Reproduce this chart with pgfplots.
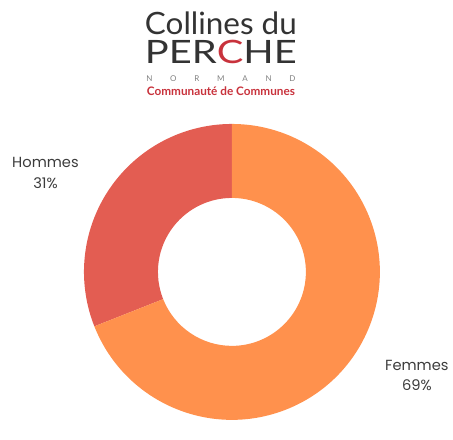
\documentclass[border=0pt]{standalone}
\usepackage{pgfplots}
\pgfplotsset{compat=1.18}
\usepackage{pgfplotstable}
\usepackage{graphicx}
\usepackage{fontspec}
\setmainfont{Poppins}
\newfontfamily\logofont{Lato}

\definecolor{femmes}{HTML}{FF914D}
\definecolor{hommes}{HTML}{E35D52}
\definecolor{txt}{HTML}{3C3C3C}
\definecolor{logored}{HTML}{C8323C}
\definecolor{logogray}{HTML}{333333}

% slices of the ring, drawn as one mark each (radii in pt)
\def\rout{111pt}
\def\rin{55.5pt}
\pgfdeclareplotmark{donutsector}{%
  \pgfmathsetmacro\aone{90+3.6*\startv}%
  \pgfmathsetmacro\atwo{90+3.6*(\startv+\pctv)}%
  \pgfpathmoveto{\pgfpointpolar{\aone}{\rout}}%
  \pgfpatharc{\aone}{\atwo}{\rout}%
  \pgfpathlineto{\pgfpointpolar{\atwo}{\rin}}%
  \pgfpatharc{\atwo}{\aone}{\rin}%
  \pgfpathclose
  \pgfusepathqfill
}
\pgfplotsset{
  slice/.style={
    only marks, mark=donutsector,
    mark options={fill=#1, draw=none},
    visualization depends on={\thisrow{start}\as\startv},
    visualization depends on={\thisrow{pct}\as\pctv},
  },
}

\pgfplotstableread{
label x y start pct
Hommes 232 272 0 31
Femmes 232 272 31 69
}\genre

\begin{document}
\begin{tikzpicture}
\begin{axis}[
    hide axis,
    x=0.75pt, y=0.75pt,
    y dir=reverse,
    xmin=0, xmax=453, ymin=0, ymax=421,
    clip=false,
]
% bounding box
\addplot[draw=none, mark=none] coordinates {(0,0) (453,421)};

\addplot[slice=hommes, skip coords between index={1}{2}] table[x=x, y=y] {\genre};
\addplot[slice=femmes, skip coords between index={0}{1}] table[x=x, y=y] {\genre};

% labels
\node[anchor=base, text=txt, font=\fontsize{11}{13}\selectfont] at (axis cs:45.5,168) {Hommes};
\node[anchor=base, text=txt, font=\fontsize{11}{13}\selectfont] at (axis cs:45.5,189) {31\%};
\node[anchor=base, text=txt, font=\fontsize{11}{13}\selectfont] at (axis cs:417,371) {Femmes};
\node[anchor=base, text=txt, font=\fontsize{11}{13}\selectfont] at (axis cs:417,391) {69\%};

% logo
\node[anchor=base, inner sep=0pt, text=logogray] at (axis cs:221,35)
  {\resizebox{114pt}{17pt}{\logofont Collines du}};
\node[anchor=base, inner sep=0pt, text=logogray] at (axis cs:221,64)
  {\resizebox{114pt}{17.5pt}{\logofont PER\textcolor{logored}{C}HE}};
\node[anchor=base, inner sep=0pt, text=gray] at (axis cs:221,82)
  {\makebox[112pt][s]{\logofont\fontsize{6}{7}\selectfont N\hfill O\hfill R\hfill M\hfill A\hfill N\hfill D}};
\node[anchor=base, inner sep=0pt, text=logored] at (axis cs:221,96)
  {\resizebox{111pt}{!}{\logofont\bfseries Communauté de Communes}};
\end{axis}
\end{tikzpicture}
\end{document}
